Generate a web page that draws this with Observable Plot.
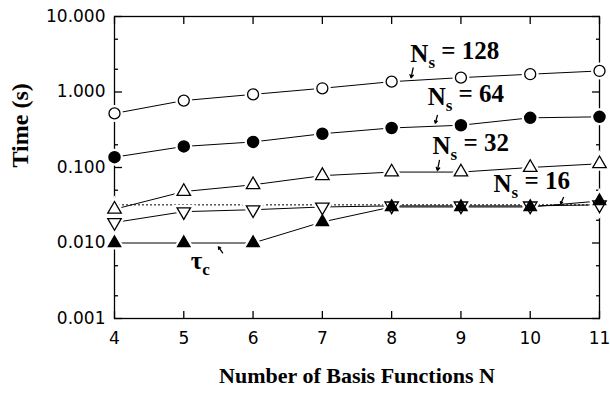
<!DOCTYPE html>
<html>
<head>
<meta charset="utf-8">
<script src="https://cdn.jsdelivr.net/npm/d3@7"></script>
<script src="https://cdn.jsdelivr.net/npm/@observablehq/plot@0.6"></script>
<style>
  html, body { margin: 0; padding: 0; background: #fff; }
  #chart svg { display: block; }
</style>
</head>
<body>
<div id="chart"></div>
<script>
// ---- data ----
const basisN = [4, 5, 6, 7, 8, 9, 10, 11];
const ns128 = [0.52, 0.77, 0.93, 1.12, 1.37, 1.55, 1.72, 1.90];
const ns64  = [0.137, 0.19, 0.218, 0.28, 0.334, 0.363, 0.455, 0.469];
const ns32  = [0.028, 0.048, 0.059, 0.078, 0.087, 0.087, 0.100, 0.112];
const ns16  = [0.0187, 0.026, 0.0276, 0.0300, 0.031, 0.031, 0.031, 0.032];
const tauC  = [0.010, 0.010, 0.010, 0.019, 0.030, 0.030, 0.030, 0.036];
const refLevel = 0.032;

const yMajorTicks = [0.001, 0.01, 0.1, 1, 10];
const yTickLabels = ["0.001", "0.010", "0.100", "1.000", "10.000"];
const yMinorTicks = [0.002, 0.005, 0.02, 0.05, 0.2, 0.5, 2, 5];
const xTicks = [4, 5, 6, 7, 8, 9, 10, 11];

const xTitle = "Number of Basis Functions N";
const yTitle = "Time (s)";

// curve labels: main letter, subscript, rest; anchor positions in data space
const labelMain = ["N", "N", "N", "N", "τ"];
const labelSub  = ["s", "s", "s", "s", "c"];
const labelRest = [" = 128", " = 64", " = 32", " = 16", ""];
const labelX    = [8.27, 8.52, 8.59, 9.47, 5.10];
const labelY    = [3.2, 0.87, 0.194, 0.061, 0.0058];
// pointer ticks from label to curve
const arrowX1 = [8.31, 8.66, 8.69, 10.48, 5.56];
const arrowY1 = [2.09, 0.49, 0.124, 0.040, 0.0074];
const arrowX2 = [8.28, 8.63, 8.66, 10.44, 5.50];
const arrowY2 = [1.54, 0.386, 0.091, 0.033, 0.0089];

// ---- build tables ----
const mk = (vals) => basisN.map((n, i) => ({n, t: vals[i]}));
const s128 = mk(ns128), s64 = mk(ns64), s32 = mk(ns32), s16 = mk(ns16), sTau = mk(tauC);
const labels = labelMain.map((m, i) => ({m, s: labelSub[i], r: labelRest[i], x: labelX[i], y: labelY[i]}));
const arrows = arrowX1.map((x1, i) => ({x1, y1: arrowY1[i], x2: arrowX2[i], y2: arrowY2[i]}));
const yLab = new Map(yMajorTicks.map((v, i) => [v, yTickLabels[i]]));

const lineOpts = {x: "n", y: "t", stroke: "black", strokeWidth: 1};
const halo = (data, symbol, r, rotate = 0) =>
  Plot.dot(data, {x: "n", y: "t", symbol, r, rotate, fill: "white", stroke: "white", strokeWidth: 6});
const blank = () => "";
// inward tick marks: outward axis ticks shifted inside the frame
const yTicksIn = (vals, len) => [
  Plot.axisY(vals, {anchor: "left", tickSize: len, dx: len, tickFormat: blank, label: null, stroke: "black", strokeWidth: 1.3}),
  Plot.axisY(vals, {anchor: "right", tickSize: len, dx: -len, tickFormat: blank, label: null, stroke: "black", strokeWidth: 1.3})
];
const xTicksIn = (vals, len) => [
  Plot.axisX(vals, {anchor: "bottom", tickSize: len, dy: -len, tickFormat: blank, label: null, stroke: "black", strokeWidth: 1.3}),
  Plot.axisX(vals, {anchor: "top", tickSize: len, dy: len, tickFormat: blank, label: null, stroke: "black", strokeWidth: 1.3})
];

const chart = Plot.plot({
  width: 610,
  height: 395,
  marginLeft: 114,
  marginRight: 11,
  marginTop: 16,
  marginBottom: 77,
  style: {background: "white", color: "black", fontFamily: "DejaVu Sans", fontSize: "17px"},
  x: {domain: [4, 11]},
  y: {type: "log", domain: [0.001, 10]},
  marks: [
    // y axis labels (left)
    Plot.axisY(yMajorTicks, {anchor: "left", tickSize: 0, tickPadding: 9, tickFormat: d => yLab.get(d), label: null,
      fontFamily: "DejaVu Sans", fontSize: 17, letterSpacing: 2.4}),
    // x axis labels
    Plot.axisX(xTicks, {anchor: "bottom", tickSize: 0, tickPadding: 13, tickFormat: d => String(d), label: null,
      fontFamily: "DejaVu Sans", fontSize: 17, letterSpacing: 1}),
    ...yTicksIn(yMajorTicks, 8),
    ...yTicksIn(yMinorTicks, 4),
    ...xTicksIn(xTicks, 7),
    Plot.frame({stroke: "black", strokeWidth: 1.3}),
    // reference dotted line
    Plot.ruleY([refLevel], {stroke: "black", strokeWidth: 1, strokeDasharray: "2,2"}),
    // lines
    Plot.line(s128, lineOpts),
    Plot.line(s64, lineOpts),
    Plot.line(s32, lineOpts),
    Plot.line(s16, lineOpts),
    Plot.line(sTau, lineOpts),
    // halos to make gaps around markers
    halo(s128, "circle", 5.5),
    halo(s64, "circle", 5.5),
    halo(s32, "triangle", 5),
    halo(s16, "triangle", 5, 180),
    halo(sTau, "triangle", 4.5),
    // markers
    Plot.dot(s128, {x: "n", y: "t", symbol: "circle", r: 5.5, fill: "white", stroke: "black", strokeWidth: 1.3}),
    Plot.dot(s64, {x: "n", y: "t", symbol: "circle", r: 5.5, fill: "black", stroke: "black"}),
    Plot.dot(s32, {x: "n", y: "t", symbol: "triangle", r: 5, fill: "white", stroke: "black", strokeWidth: 1.3}),
    Plot.dot(s16, {x: "n", y: "t", symbol: "triangle", r: 5, rotate: 180, fill: "white", stroke: "black", strokeWidth: 1.3}),
    Plot.dot(sTau, {x: "n", y: "t", symbol: "triangle", r: 4.5, fill: "black", stroke: "black"}),
    // pointers
    Plot.arrow(arrows, {x1: "x1", y1: "y1", x2: "x2", y2: "y2", stroke: "black", strokeWidth: 1.3, headLength: 4}),
    // curve labels
    Plot.text(labels, {x: "x", y: "y", text: d => d.m + "|" + d.s + "|" + d.r, textAnchor: "start",
      fontFamily: "Liberation Serif", fontWeight: "bold", fontSize: 25, fill: "black"}),
    // axis titles
    Plot.text([xTitle], {frameAnchor: "bottom", dy: 64, text: d => d, fontFamily: "Liberation Serif",
      fontWeight: "bold", fontSize: 22, fill: "black"}),
    Plot.text([yTitle], {frameAnchor: "left", dx: -94, rotate: -90, text: d => d, fontFamily: "Liberation Serif",
      fontWeight: "bold", fontSize: 24, fill: "black"})
  ]
});

// turn "N|s| = 128" into N with subscript s
chart.querySelectorAll("text").forEach(t => {
  const parts = t.textContent.split("|");
  if (parts.length === 3) {
    while (t.firstChild) t.removeChild(t.firstChild);
    const ns = "http://www.w3.org/2000/svg";
    t.appendChild(document.createTextNode(parts[0]));
    const sub = document.createElementNS(ns, "tspan");
    sub.setAttribute("dy", "0.35em");
    sub.setAttribute("font-size", "17");
    sub.textContent = parts[1];
    t.appendChild(sub);
    if (parts[2]) {
      const rest = document.createElementNS(ns, "tspan");
      rest.setAttribute("dy", "-0.35em");
      rest.textContent = parts[2];
      t.appendChild(rest);
    }
  }
});

document.getElementById("chart").appendChild(chart);
</script>
</body>
</html>
